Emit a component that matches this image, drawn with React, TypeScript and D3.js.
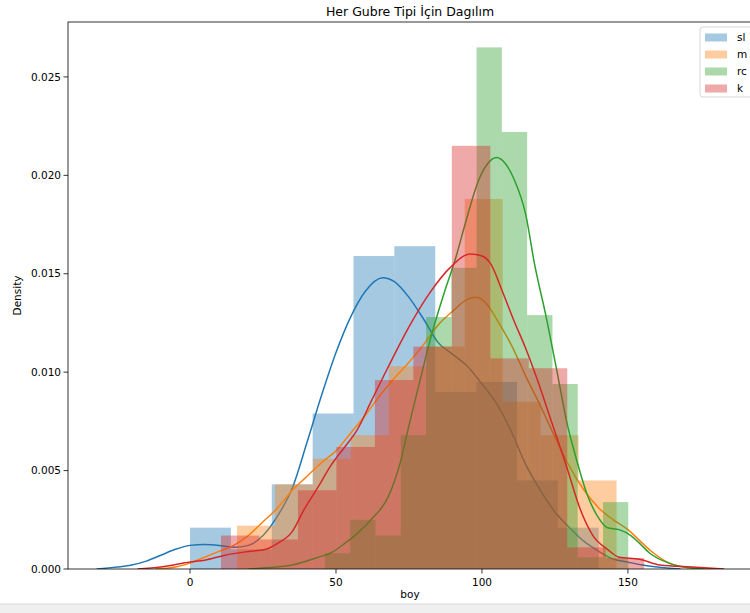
import React from 'react';
import * as d3 from 'd3';

// groups in draw order
const groups = ['sl', 'm', 'rc', 'k'];
const colors = ['#1f77b4', '#ff7f0e', '#2ca02c', '#d62728'];

// histogram bins: first edge, bin width, densities
const slBinStart = 0;
const slBinWidth = 14;
const slHist = [0.0021, 0.001, 0.0043, 0.0079, 0.0159, 0.0164, 0.009, 0.0095, 0.0045, 0.0021];

const mBinStart = 16.1;
const mBinWidth = 13;
const mHist = [0.0022, 0.0043, 0.0056, 0.0068, 0.0103, 0.0113, 0.0188, 0.0085, 0.0068, 0.0045];

const rcBinStart = 46.2;
const rcBinWidth = 8.66;
const rcHist = [0.0008, 0.0025, 0.0017, 0.0068, 0.0128, 0.0153, 0.0265, 0.0222, 0.0129, 0.0094, 0.0006, 0.0034];

const kBinStart = 10.6;
const kBinWidth = 13.18;
const kHist = [0.0017, 0.0015, 0.004, 0.0062, 0.0096, 0.0113, 0.0215, 0.0107, 0.0102, 0.0011, 0.00056];

// kde curves: [boy, density]
const slKde: [number, number][] = [
  [-32, 0], [-25, 0.0001], [-20, 0.0002], [-15, 0.0004], [-10, 0.0007], [-5, 0.001], [0, 0.0012],
  [5, 0.00125], [10, 0.0012], [15, 0.0011], [20, 0.0012], [25, 0.0017], [30, 0.0027], [35, 0.0041],
  [40, 0.0064], [45, 0.0088], [50, 0.011], [55, 0.0128], [60, 0.0141], [66, 0.0148], [70, 0.0146],
  [75, 0.0138], [80, 0.0127], [85, 0.0115], [90, 0.0109], [95, 0.0103], [100, 0.0094], [105, 0.0084],
  [110, 0.007], [115, 0.0053], [120, 0.004], [125, 0.0029], [130, 0.0021], [135, 0.0014], [140, 0.0009],
  [145, 0.0005], [150, 0.00035], [155, 0.0002], [160, 0.0001], [168, 0],
];
const mKde: [number, number][] = [
  [-12, 0], [-5, 0.0001], [0, 0.0003], [5, 0.0006], [10, 0.0009], [15, 0.0012], [20, 0.0017],
  [25, 0.0024], [30, 0.0031], [35, 0.004], [40, 0.0047], [45, 0.0054], [50, 0.006], [55, 0.0069],
  [60, 0.0078], [65, 0.0088], [70, 0.0097], [75, 0.0105], [80, 0.0114], [85, 0.0124], [90, 0.0131],
  [95, 0.0137], [98, 0.0138], [102, 0.0134], [105, 0.0127], [110, 0.0114], [115, 0.0098], [120, 0.0083],
  [125, 0.0067], [130, 0.0052], [135, 0.004], [140, 0.0031], [145, 0.0025], [150, 0.002], [155, 0.0013],
  [158, 0.0009], [165, 0.00025], [172, 0.00005], [181, 0],
];
const rcKde: [number, number][] = [
  [20, 0], [25, 0.00005], [35, 0.0002], [44, 0.0006], [48, 0.0008], [53, 0.0013], [58, 0.0019],
  [62, 0.0025], [68, 0.0037], [72, 0.0054], [75, 0.0073], [79, 0.0097], [82, 0.0115], [87, 0.014],
  [91, 0.0158], [94, 0.0174], [99, 0.0198], [102, 0.0206], [105, 0.0209], [108, 0.0206], [111, 0.0198],
  [115, 0.018], [118, 0.0155], [122, 0.0128], [126, 0.0098], [129, 0.0075], [132.5, 0.0055], [136, 0.0038],
  [139.5, 0.0027], [143, 0.0021], [147, 0.002], [151, 0.0017], [154, 0.0013], [157.5, 0.0008],
  [164, 0.0003], [172, 0.00005], [176, 0],
];
const kKde: [number, number][] = [
  [-18, 0], [-10, 0.0001], [0, 0.00035], [5, 0.00045], [12, 0.0007], [19, 0.00087], [26, 0.001],
  [30, 0.0013], [35, 0.0019], [39, 0.003], [44, 0.0042], [48, 0.0052], [53, 0.0062], [57, 0.007],
  [62, 0.0085], [68, 0.0103], [75, 0.0123], [82, 0.014], [89, 0.0153], [96, 0.016], [100, 0.0159],
  [103, 0.0155], [107, 0.0141], [111, 0.0126], [115, 0.0112], [119, 0.0096], [124, 0.0074],
  [129, 0.0052], [133.5, 0.0031], [138, 0.0017], [143, 0.001], [147, 0.0006], [154, 0.0005],
  [161, 0.0002], [172, 0.0001], [183, 0],
];

const xTicks = [0, 50, 100, 150];
const yTicks = [0, 0.005, 0.01, 0.015, 0.02, 0.025];

const hists = [
  { start: slBinStart, width: slBinWidth, values: slHist },
  { start: mBinStart, width: mBinWidth, values: mHist },
  { start: rcBinStart, width: rcBinWidth, values: rcHist },
  { start: kBinStart, width: kBinWidth, values: kHist },
];
const kdes = [slKde, mKde, rcKde, kKde];

const W = 750;
const H = 613;
const left = 68;
const top = 22;
const right = 752;
const bottom = 569;
const font = 'DejaVu Sans, sans-serif';

const App = () => {
  const x = d3.scaleLinear().domain([-41.8, 192.5]).range([left, right]);
  const y = d3.scaleLinear().domain([0, 0.02779]).range([bottom, top]);
  const line = d3.line<[number, number]>()
    .x(d => x(d[0]))
    .y(d => y(d[1]))
    .curve(d3.curveMonotoneX);

  return (
    <div style={{ position: 'absolute', left: 0, top: 0, width: W, height: H, background: '#fff' }}>
      <svg width={W} height={H} style={{ display: 'block' }} fontFamily={font}>
        <rect x={0} y={0} width={W} height={H} fill="#fff" />
        <defs>
          <clipPath id="plot">
            <rect x={left} y={top} width={right - left} height={bottom - top} />
          </clipPath>
        </defs>
        <g clipPath="url(#plot)">
          {groups.map((g, gi) => (
            <g key={g}>
              {hists[gi].values.map((v, i) => {
                const x0 = x(hists[gi].start + i * hists[gi].width);
                const x1 = x(hists[gi].start + (i + 1) * hists[gi].width);
                return (
                  <rect key={i} x={x0} y={y(v)} width={x1 - x0} height={y(0) - y(v)}
                    fill={colors[gi]} fillOpacity={0.4} />
                );
              })}
              <path d={line(kdes[gi]) || ''} fill="none" stroke={colors[gi]} strokeWidth={1.5} />
            </g>
          ))}
        </g>
        {/* spines */}
        <rect x={left} y={top} width={right - left} height={bottom - top} fill="none" stroke="#000" strokeWidth={0.8} />
        {/* x axis */}
        {xTicks.map(t => (
          <g key={t} transform={`translate(${x(t)},${bottom})`}>
            <line y2={4.5} stroke="#000" strokeWidth={0.8} />
            <text y={17} textAnchor="middle" fontSize={10.5} fill="#000">{t}</text>
          </g>
        ))}
        {/* y axis */}
        {yTicks.map(t => (
          <g key={t} transform={`translate(${left},${y(t)})`}>
            <line x2={-4.5} stroke="#000" strokeWidth={0.8} />
            <text x={-7} dy="0.35em" textAnchor="end" fontSize={10.5} fill="#000">{d3.format('.3f')(t)}</text>
          </g>
        ))}
        <text x={(left + right) / 2} y={598} textAnchor="middle" fontSize={10.5} fill="#000">boy</text>
        <text transform={`translate(21,${(top + bottom) / 2}) rotate(-90)`} textAnchor="middle" fontSize={10.5} fill="#000">Density</text>
        <text x={(left + right) / 2} y={16} textAnchor="middle" fontSize={12.5} fill="#000">Her Gubre Tipi İçin Dagılım</text>
        {/* legend */}
        <g transform="translate(700,27)">
          <rect x={0} y={0} width={60} height={70} rx={3} fill="#fff" fillOpacity={0.8} stroke="#ccc" strokeWidth={0.8} />
          {groups.map((g, i) => (
            <g key={g} transform={`translate(5,${10 + i * 17})`}>
              <rect x={0} y={-3.5} width={22} height={8} fill={colors[i]} fillOpacity={0.4} />
              <text x={32} y={4} fontSize={10.5} fill="#000">{g}</text>
            </g>
          ))}
        </g>
        {/* bottom grey band */}
        <rect x={0} y={604} width={W} height={H - 604} fill="#efefef" />
        <line x1={0} x2={W} y1={604} y2={604} stroke="#d8d8d8" strokeWidth={1} />
      </svg>
    </div>
  );
};

export default App;
